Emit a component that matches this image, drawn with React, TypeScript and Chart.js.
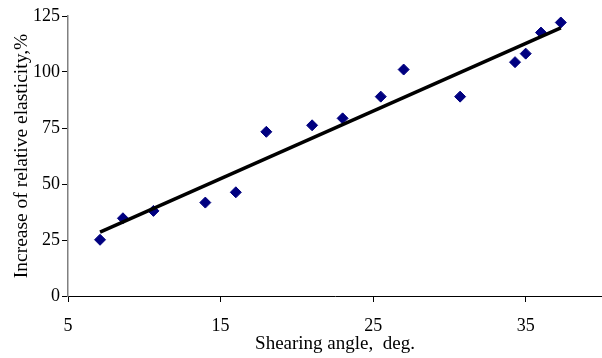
import React, { useEffect, useRef } from "react";
import { Chart, registerables } from "chart.js";

Chart.register(...registerables);

const shearAngle = [7.1, 8.6, 10.6, 14.0, 16.0, 18.0, 21.0, 23.0, 25.5, 27.0, 30.7, 34.3, 35.0, 36.0, 37.3];
const elasticityIncrease = [25.1, 34.7, 38.0, 41.7, 46.3, 73.3, 76.2, 79.3, 89.0, 101.1, 89.0, 104.4, 108.2, 117.6, 122.1];
const trendX = [7.1, 37.3];
const trendY = [28.5, 119.7];
const xTickValues = [5, 15, 25, 35];

const FONT = '"Liberation Serif", "Times New Roman", serif';

export default function App() {
  const ref = useRef<HTMLCanvasElement | null>(null);

  useEffect(() => {
    document.body.style.margin = "0";
    const canvas = ref.current;
    if (!canvas) return;
    const chart = new Chart(canvas, {
      type: "scatter",
      data: {
        datasets: [
          {
            label: "Trend",
            data: trendX.map((x, i) => ({ x, y: trendY[i] })),
            showLine: true,
            borderColor: "#000000",
            borderWidth: 3.5,
            pointRadius: 0,
            order: 0,
          },
          {
            label: "Data",
            data: shearAngle.map((x, i) => ({ x, y: elasticityIncrease[i] })),
            pointStyle: "rectRot",
            pointRadius: 5.5,
            backgroundColor: "#000080",
            borderColor: "#000080",
            borderWidth: 1,
            order: 1,
          },
        ],
      },
      options: {
        animation: false,
        responsive: false,
        maintainAspectRatio: false,
        layout: { autoPadding: false, padding: { top: 16, right: 0, left: 0, bottom: 0 } },
        plugins: { legend: { display: false }, tooltip: { enabled: false } },
        scales: {
          x: {
            type: "linear",
            min: 5,
            max: 40,
            afterBuildTicks: (scale: any) => {
              scale.ticks = xTickValues.map((v) => ({ value: v }));
            },
            afterFit: (scale: any) => {
              scale.height = 62;
              scale.paddingLeft = 0;
              scale.paddingRight = 0;
            },
            grid: { drawOnChartArea: false, drawTicks: true, tickLength: 6, color: "#000000" },
            border: { display: true, color: "#000000", width: 1 },
            ticks: { color: "#000000", font: { family: FONT, size: 18 }, padding: 13, maxRotation: 0 },
            title: {
              display: true,
              text: "Shearing angle,  deg.",
              color: "#000000",
              font: { family: FONT, size: 19 },
              padding: { top: 0, bottom: 3 },
            },
          },
          y: {
            min: 0,
            max: 125,
            ticks: { stepSize: 25, color: "#000000", font: { family: FONT, size: 18 }, padding: 2 },
            afterFit: (scale: any) => {
              scale.width = 68;
            },
            grid: { drawOnChartArea: false, drawTicks: true, tickLength: 6, color: "#000000" },
            border: { display: true, color: "#808080", width: 1.5 },
            title: {
              display: true,
              text: "Increase of relative elasticity,%",
              color: "#000000",
              font: { family: FONT, size: 19.5 },
              padding: { top: 10, bottom: 0 },
            },
          },
        },
      },
    });
    return () => chart.destroy();
  }, []);

  return (
    <div style={{ position: "fixed", left: 0, top: 0, width: 602, height: 358, background: "#fff" }}>
      <canvas ref={ref} width={602} height={358} style={{ display: "block", width: 602, height: 358 }} />
    </div>
  );
}
